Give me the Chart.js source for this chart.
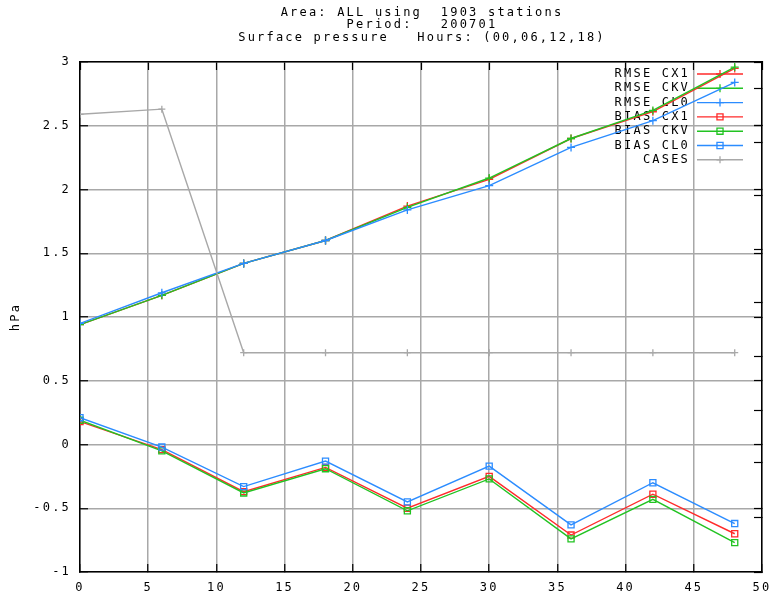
<!DOCTYPE html>
<html lang="en">
<head>
<meta charset="UTF-8">
<title>Surface pressure verification</title>
<script src="https://cdn.jsdelivr.net/npm/chart.js@4.4.0/dist/chart.umd.min.js"></script>
<style>
    html, body { margin: 0; padding: 0; background: #fff; }
    #chart { display: block; }
</style>
</head>
<body>
<canvas id="chart" width="778" height="592"></canvas>
<script>
    // forecast lead time (hours)
    const hours = [0, 6, 12, 18, 24, 30, 36, 42, 48];

    // hPa
    const rmseCX1 = [0.94, 1.17, 1.42, 1.60, 1.87, 2.08, 2.40, 2.61, 2.95];
    const rmseCKV = [0.94, 1.17, 1.42, 1.60, 1.86, 2.09, 2.40, 2.62, 2.96];
    const rmseCL0 = [0.95, 1.19, 1.42, 1.60, 1.84, 2.03, 2.33, 2.54, 2.84];
    const biasCX1 = [0.18, -0.04, -0.37, -0.18, -0.50, -0.25, -0.71, -0.39, -0.70];
    const biasCKV = [0.19, -0.05, -0.38, -0.19, -0.52, -0.27, -0.74, -0.43, -0.77];
    const biasCL0 = [0.21, -0.02, -0.33, -0.13, -0.45, -0.17, -0.63, -0.30, -0.62];
    // number of cases, drawn in the left axis units as it sits in the picture
    const cases = [2.59, 2.63, 0.72, 0.72, 0.72, 0.72, 0.72, 0.72, 0.72];

    // ticks
    const xTicks = [0, 5, 10, 15, 20, 25, 30, 35, 40, 45, 50];
    const yTicks = [-1, -0.5, 0, 0.5, 1, 1.5, 2, 2.5, 3];
    const y2Ticks = [-0.57, -0.145, 0.27, 0.69, 1.11, 1.53, 1.95, 2.37, 2.50, 2.79];

    const titleLines = [
        'Area: ALL using  1903 stations',
        'Period:   200701',
        'Surface pressure   Hours: (00,06,12,18)'
    ];

    const FONT_FAMILY = '"DejaVu Sans Mono", "Liberation Mono", monospace';
    const FONT_SIZE = 12;
    const SPACING = '2.2px';

    const RED = '#ff2a2a';
    const GREEN = '#22c322';
    const BLUE = '#2b8cff';
    const GRAY = '#a8a8a8';

    const series = [
        { label: 'RMSE CX1', values: rmseCX1, color: RED, style: 'cross' },
        { label: 'RMSE CKV', values: rmseCKV, color: GREEN, style: 'cross' },
        { label: 'RMSE CL0', values: rmseCL0, color: BLUE, style: 'cross' },
        { label: 'BIAS CX1', values: biasCX1, color: RED, style: 'rect' },
        { label: 'BIAS CKV', values: biasCKV, color: GREEN, style: 'rect' },
        { label: 'BIAS CL0', values: biasCL0, color: BLUE, style: 'rect' },
        { label: 'CASES', values: cases, color: GRAY, style: 'cross' }
    ];

    const datasets = series.map((s, i) => ({
        label: s.label,
        data: hours.map((h, j) => ({ x: h, y: s.values[j] })),
        borderColor: s.color,
        backgroundColor: 'rgba(0,0,0,0)',
        borderWidth: 1.4,
        pointStyle: s.style,
        pointRadius: s.style === 'rect' ? 4.3 : (s.label === 'CASES' ? 3.5 : 4),
        pointBorderWidth: 1.3,
        pointBackgroundColor: 'rgba(0,0,0,0)',
        pointBorderColor: s.color,
        tension: 0,
        fill: false,
        order: -i
    }));

    // key in the top right corner, text left of the sample
    const keyPlugin = {
        id: 'key',
        beforeDatasetsDraw(chart) {
            const ctx = chart.ctx;
            const area = chart.chartArea;
            ctx.save();
            ctx.font = FONT_SIZE + 'px ' + FONT_FAMILY;
            ctx.letterSpacing = SPACING;
            ctx.textAlign = 'right';
            ctx.textBaseline = 'middle';
            chart.data.datasets.forEach((ds, i) => {
                const y = area.top + 12 + i * 14.3;
                ctx.fillStyle = '#000';
                ctx.fillText(ds.label, area.right - 72, y);
                ctx.strokeStyle = ds.borderColor;
                ctx.lineWidth = ds.borderWidth;
                ctx.beginPath();
                ctx.moveTo(area.right - 65, y);
                ctx.lineTo(area.right - 19, y);
                ctx.stroke();
                ctx.fillStyle = 'rgba(0,0,0,0)';
                ctx.lineWidth = ds.pointBorderWidth;
                Chart.helpers.drawPoint(ctx, {
                    pointStyle: ds.pointStyle,
                    radius: ds.pointRadius,
                    borderWidth: ds.pointBorderWidth,
                    rotation: 0
                }, area.right - 42, y);
            });
            ctx.restore();
        }
    };

    const titlePlugin = {
        id: 'titleLines',
        beforeDraw(chart) {
            chart.ctx.letterSpacing = SPACING;
        },
        afterDraw(chart) {
            const ctx = chart.ctx;
            const area = chart.chartArea;
            ctx.save();
            ctx.font = FONT_SIZE + 'px ' + FONT_FAMILY;
            ctx.letterSpacing = SPACING;
            ctx.fillStyle = '#000';
            ctx.textAlign = 'center';
            ctx.textBaseline = 'middle';
            titleLines.forEach((line, i) => {
                ctx.fillText(line, (area.left + area.right) / 2 + 1, 12.5 + i * 12.8);
            });
            ctx.restore();
        }
    };

    const tickFont = { family: FONT_FAMILY, size: FONT_SIZE };
    const setTicks = list => scale => { scale.ticks = list.map(v => ({ value: v })); };
    // fixed box sizes, no extra room for overhanging end labels
    const fixSize = (w, h) => scale => {
        if (w !== null) scale.width = w;
        if (h !== null) scale.height = h;
        scale.paddingTop = 0;
        scale.paddingBottom = 0;
        scale.paddingLeft = 0;
        scale.paddingRight = 0;
    };

    new Chart(document.getElementById('chart'), {
        type: 'line',
        data: { datasets },
        options: {
            responsive: false,
            animation: false,
            devicePixelRatio: 1,
            layout: { padding: { top: 62, left: 0, right: 0, bottom: 0 } },
            plugins: {
                legend: { display: false },
                title: { display: false },
                tooltip: { enabled: false }
            },
            scales: {
                x: {
                    type: 'linear',
                    position: 'bottom',
                    min: 0,
                    max: 50,
                    afterBuildTicks: setTicks(xTicks),
                    afterFit: fixSize(null, 20),
                    grid: { color: GRAY, lineWidth: 1.5, tickColor: '#000', tickLength: -8, tickWidth: 1.2 },
                    border: { color: '#000', width: 1.5 },
                    ticks: { font: tickFont, color: '#000', padding: 17, maxRotation: 0, autoSkip: false }
                },
                x2: {
                    type: 'linear',
                    position: 'top',
                    min: 0,
                    max: 50,
                    afterBuildTicks: setTicks(xTicks),
                    afterFit: fixSize(null, 0),
                    grid: { drawOnChartArea: false, tickColor: '#000', tickLength: -8, tickWidth: 1.2 },
                    border: { color: '#000', width: 1.5 },
                    ticks: { display: false }
                },
                y: {
                    type: 'linear',
                    position: 'left',
                    min: -1,
                    max: 3,
                    afterBuildTicks: setTicks(yTicks),
                    afterFit: fixSize(80, null),
                    grid: { color: GRAY, lineWidth: 1.5, tickColor: '#000', tickLength: -8, tickWidth: 1.2 },
                    border: { color: '#000', width: 1.5 },
                    ticks: { font: tickFont, color: '#000', padding: 17, callback: v => String(v) },
                    title: { display: true, text: 'hPa', font: tickFont, color: '#000', padding: { top: 9, bottom: 0 } }
                },
                y2: {
                    type: 'linear',
                    position: 'right',
                    min: -1,
                    max: 3,
                    afterBuildTicks: setTicks(y2Ticks.concat(yTicks)),
                    afterFit: fixSize(16, null),
                    grid: { drawOnChartArea: false, tickColor: '#000', tickLength: -8, tickWidth: 1.2 },
                    border: { color: '#000', width: 1.5 },
                    ticks: { display: false }
                }
            }
        },
        plugins: [keyPlugin, titlePlugin]
    });
</script>
</body>
</html>
